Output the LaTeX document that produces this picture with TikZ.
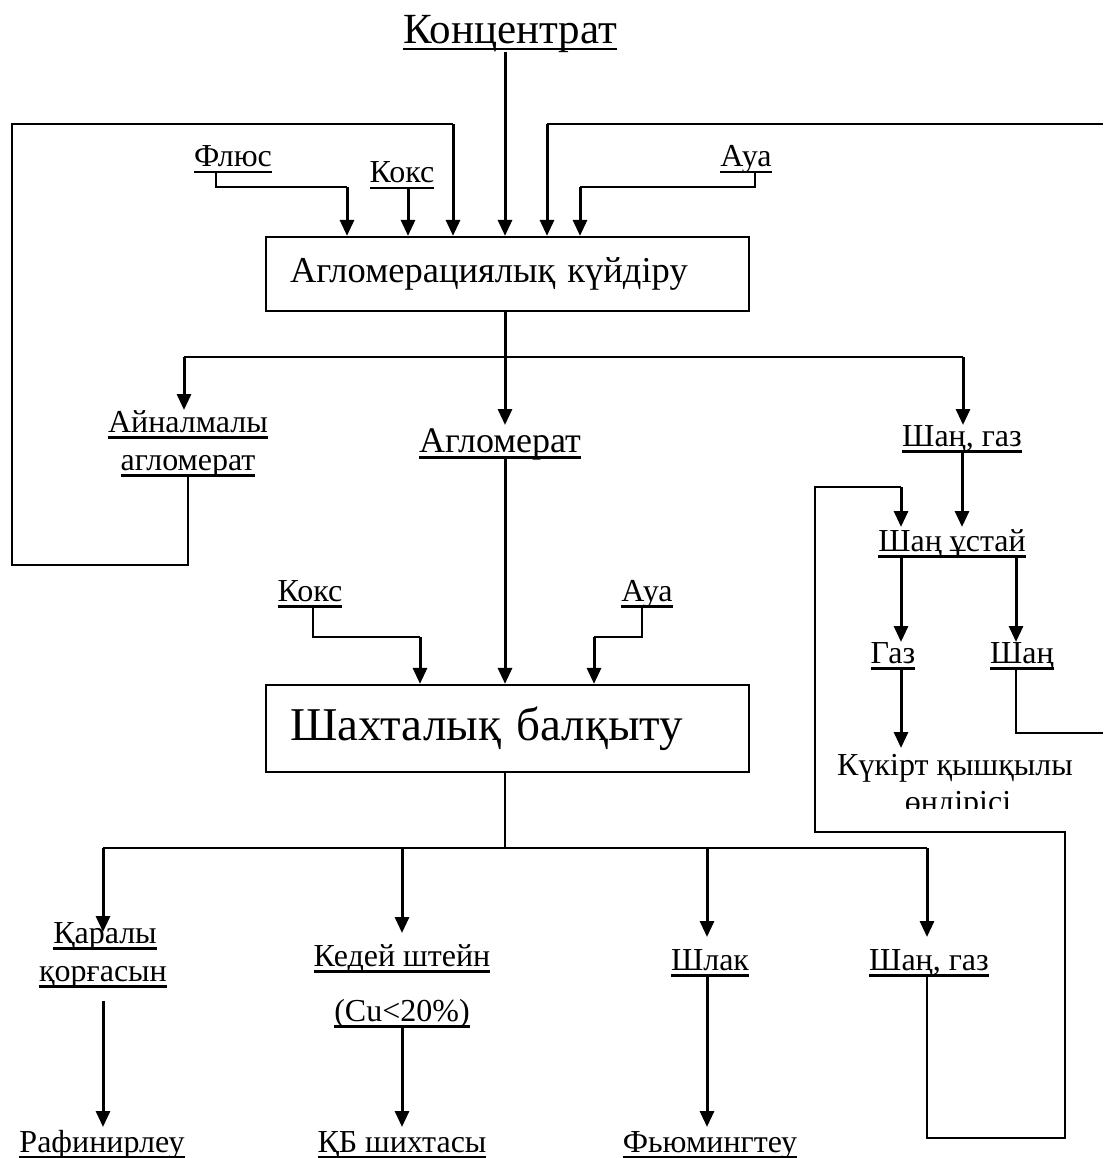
\documentclass[tikz,border=0pt]{standalone}
\usepackage{fontspec}
\setmainfont{Liberation Serif}
\usetikzlibrary{arrows.meta,calc}
\newcommand{\myul}[1]{\setbox0=\hbox{#1}\rlap{\copy0}\rule[-6.5pt]{\wd0}{2.2pt}}
\tikzset{
  lbl/.style={inner sep=0pt, anchor=base, font=\fontsize{32}{38}\selectfont},
  midlbl/.style={lbl, font=\fontsize{36}{42}\selectfont},
  thinln/.style={line width=1.4pt},
  arr/.style={line width=3pt, -{Triangle[length=16pt,width=14pt]}},
  procbox/.style={draw, line width=2.2pt, inner xsep=24pt, align=left},
}
\begin{document}
\begin{tikzpicture}[x=1pt,y=-1pt]
\useasboundingbox (0,0) rectangle (1103,1158);

% ---------- nodes ----------
\node[lbl, font=\fontsize{43}{48}\selectfont] (conc) at (510,44) {\myul{Концентрат}};
\node[lbl] (flux) at (233,167) {\myul{Флюс}};
\node[lbl] (koks1) at (402,183) {\myul{Кокс}};
\node[lbl] (aua1) at (746,167) {\myul{Ауа}};
\node[procbox, text width=435pt, minimum height=74pt, font=\fontsize{36.5}{40}\selectfont] (box1) at (507.5,274) {Агломерациялық күйдіру};

\node[lbl] (ain1) at (188,432) {\myul{Айналмалы}};
\node[lbl] (ain2) at (188,470) {\myul{агломерат}};
\node[midlbl] (aglo) at (500,452) {\myul{Агломерат}};
\node[lbl] (dust1) at (962,446) {\myul{Шаң, газ}};
\node[lbl] (catcher) at (952,551) {\myul{Шаң ұстай}};
\node[lbl] (gas) at (893,663) {\myul{Газ}};
\node[lbl] (dust) at (1022,663) {\myul{Шаң}};
\node[lbl] (sulf) at (955,775) {Күкірт қышқылы};
\begin{scope}
  \clip (800,785) rectangle (1103,808);
  \node[lbl] (sulf2) at (958,812) {өндірісі};
\end{scope}

\node[lbl] (koks2) at (310,601) {\myul{Кокс}};
\node[lbl] (aua2) at (647,601) {\myul{Ауа}};
\node[procbox, text width=435pt, minimum height=87pt, font=\fontsize{47}{52}\selectfont] (box2) at (507.5,728.5) {Шахталық балқыту};

\node[lbl] (qara1) at (105,943) {\myul{Қаралы}};
\node[lbl] (qara2) at (103,981) {\myul{қорғасын}};
\node[lbl] (kedei) at (402,966) {\myul{Кедей штейн}};
\node[lbl] (cu) at (402,1021) {\myul{(Cu<20\%)}};
\node[lbl] (shlak) at (710,970) {\myul{Шлак}};
\node[lbl] (dust2) at (929,970) {\myul{Шаң, газ}};
\node[lbl] (raf) at (102,1152) {\myul{Рафинирлеу}};
\node[lbl] (kb) at (402,1152) {\myul{ҚБ шихтасы}};
\node[lbl] (fum) at (710,1152) {\myul{Фьюмингтеу}};

% ---------- helper coordinates ----------
\coordinate (fluxc) at (347,187);
\coordinate (auac) at (580,187);
\coordinate (lt) at (453,124);
\coordinate (ltl) at (12,124);
\coordinate (lbc) at (12,565);
\coordinate (rt) at (547,124);
\coordinate (rte) at (1103,124);
\coordinate (bl) at (184,357);
\coordinate (brr) at (963,357);
\coordinate (k2c) at (420,637);
\coordinate (a2c) at (594,637);
\coordinate (sj) at (505,848);
\coordinate (sl) at (103,848);
\coordinate (sk) at (402,848);
\coordinate (ss) at (707,848);
\coordinate (sr) at (927,848);
\coordinate (lp1) at (927,1138);
\coordinate (lp2) at (1065,1138);
\coordinate (lp3) at (1065,832);
\coordinate (lp4) at (815,832);
\coordinate (lp5) at (815,487);
\coordinate (lp6) at (901,487);
\coordinate (dre) at (1103,733);

% ---------- inputs to box1 ----------
\draw[arr] ($(conc.base)+(-5,8)$) coordinate (c0) -- (c0 |- box1.north);
\draw[thinln] ($(flux.base)+(-17,6)$) |- (fluxc);
\draw[arr] (fluxc) -- (fluxc |- box1.north);
\draw[arr] ($(koks1.base)+(6,6)$) coordinate (k1) -- (k1 |- box1.north);
\draw[thinln] ($(ain2.base)+(0,6)$) |- (lbc) -- (ltl) -- (lt);
\draw[arr] (lt) -- (lt |- box1.north);
\draw[thinln] (rte) -- (rt);
\draw[arr] (rt) -- (rt |- box1.north);
\draw[thinln] ($(aua1.base)+(9,6)$) |- (auac);
\draw[arr] (auac) -- (auac |- box1.north);

% ---------- outputs of box1 ----------
\draw[thinln] (bl) -- (brr);
\draw[arr] (box1.south -| c0) -- ($(aglo.base)+(5,-27)$);
\draw[arr] (bl) -- ($(ain1.base)+(-4,-22)$);
\draw[arr] (brr) -- ($(dust1.base)+(1,-21)$);
\draw[arr] ($(dust1.base)+(0,7)$) -- ($(catcher.base)+(10,-24)$);
\draw[thinln] ($(dust2.base)+(-2,6)$) -- (lp1) -- (lp2) -- (lp3) -- (lp4) -- (lp5) -- (lp6);
\draw[arr] (lp6) -- ($(catcher.base)+(-51,-24)$);
\draw[thinln] ($(catcher.base)+(-51,5)$) -- ($(catcher.base)+(64,5)$);
\draw[arr] ($(catcher.base)+(-51,5)$) -- ($(gas.base)+(8,-21)$);
\draw[arr] ($(catcher.base)+(64,5)$) -- ($(dust.base)+(-6,-21)$);
\draw[arr] ($(gas.base)+(8,6)$) -- ($(sulf.base)+(-54,-27)$);
\draw[thinln] ($(dust.base)+(-6,6)$) |- (dre);

% ---------- inputs to box2 ----------
\draw[arr] ($(aglo.base)+(5,6)$) coordinate (a0) -- (a0 |- box2.north);
\draw[thinln] ($(koks2.base)+(3,6)$) |- (k2c);
\draw[arr] (k2c) -- (k2c |- box2.north);
\draw[thinln] ($(aua2.base)+(-5,6)$) |- (a2c);
\draw[arr] (a2c) -- (a2c |- box2.north);

% ---------- outputs of box2 ----------
\draw[thinln] (box2.south -| sj) -- (sj);
\draw[thinln] (sl) -- (sr);
\draw[arr] (sl) -- ($(qara1.base)+(-2,-11)$);
\draw[arr] (sk) -- ($(kedei.base)+(0,-33)$);
\draw[arr] (ss) -- ($(shlak.base)+(-3,-33)$);
\draw[arr] (sr) -- ($(dust2.base)+(-2,-33)$);
\draw[arr] ($(qara2.base)+(0,20)$) -- ($(raf.base)+(1,-25)$);
\draw[arr] ($(cu.base)+(0,6)$) -- ($(kb.base)+(0,-25)$);
\draw[arr] ($(shlak.base)+(-3,6)$) -- ($(fum.base)+(-3,-25)$);
\end{tikzpicture}
\end{document}
